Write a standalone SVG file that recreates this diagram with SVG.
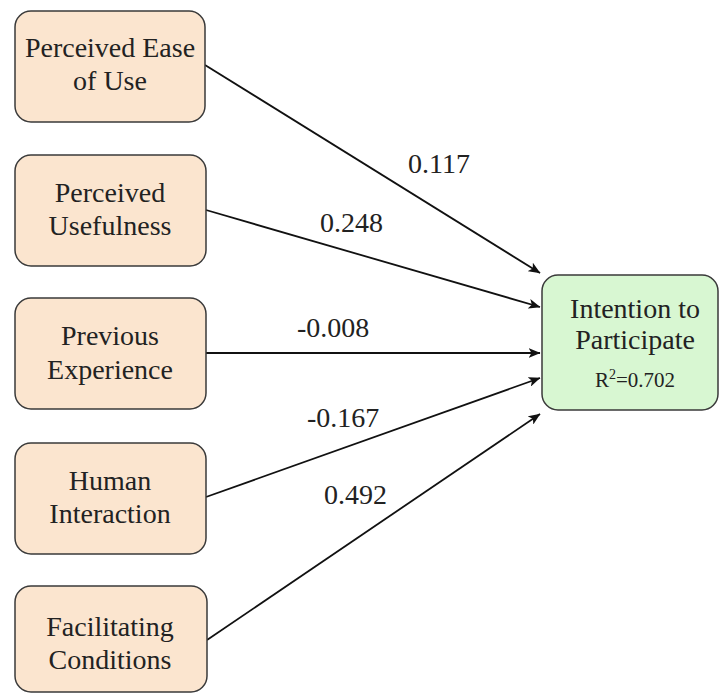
<svg xmlns="http://www.w3.org/2000/svg" width="720" height="694" viewBox="0 0 720 694">
<defs>
<style>
.src rect{fill:#fbe5cf;stroke:#3a3a3a;stroke-width:1.5}
.tgt rect{fill:#d8f7d2;stroke:#3a3a3a;stroke-width:1.5}
text{fill:#222}
.nt{font-size:28px;text-anchor:middle}
.lbl{font-size:28px}
.edge{stroke:#111;stroke-width:1.8;fill:none;marker-end:url(#arr)}
</style>
<marker id="arr" viewBox="0 0 12 10" refX="11.5" refY="5" markerWidth="12" markerHeight="10" markerUnits="userSpaceOnUse" orient="auto">
<path d="M0,0 L12,5 L0,10 L3,5 Z" fill="#111"/>
</marker>
</defs>
<rect width="720" height="694" fill="#fff"/>
<g font-family="'Liberation Serif', 'DejaVu Serif', serif">
<g id="connectors">
<line class="edge" x1="205" y1="65" x2="540" y2="273"/>
<line class="edge" x1="206" y1="210" x2="540" y2="307"/>
<line class="edge" x1="206" y1="353" x2="540" y2="353"/>
<line class="edge" x1="206" y1="497" x2="540" y2="378"/>
<line class="edge" x1="207" y1="640" x2="540" y2="414"/>
<text class="lbl" x="408" y="173">0.117</text>
<text class="lbl" x="320" y="232">0.248</text>
<text class="lbl" x="297" y="337">-0.008</text>
<text class="lbl" x="307" y="427">-0.167</text>
<text class="lbl" x="324" y="504">0.492</text>
</g>
<g id="peou" class="src">
<rect x="15" y="11" width="190" height="111" rx="16"/>
<text class="nt" x="110" y="57">Perceived Ease</text>
<text class="nt" x="110" y="90">of Use</text>
</g>
<g id="pu" class="src">
<rect x="15" y="155" width="191" height="111" rx="16"/>
<text class="nt" x="110" y="202">Perceived</text>
<text class="nt" x="110" y="235">Usefulness</text>
</g>
<g id="pe" class="src">
<rect x="15" y="298" width="191" height="111" rx="16"/>
<text class="nt" x="110" y="345">Previous</text>
<text class="nt" x="110" y="379">Experience</text>
</g>
<g id="hi" class="src">
<rect x="15" y="443" width="191" height="111" rx="16"/>
<text class="nt" x="110" y="490">Human</text>
<text class="nt" x="110" y="523">Interaction</text>
</g>
<g id="fc" class="src">
<rect x="15" y="586" width="192" height="106" rx="16"/>
<text class="nt" x="110" y="636">Facilitating</text>
<text class="nt" x="110" y="669">Conditions</text>
</g>
<g id="itp" class="tgt">
<rect x="542" y="275" width="176" height="135" rx="16"/>
<text class="nt" x="635" y="318">Intention to</text>
<text class="nt" x="635" y="349">Participate</text>
<text x="635" y="387" text-anchor="middle" font-size="21">R<tspan dy="-8" font-size="14">2</tspan><tspan dy="8">=0.702</tspan></text>
</g>
</g>
</svg>
